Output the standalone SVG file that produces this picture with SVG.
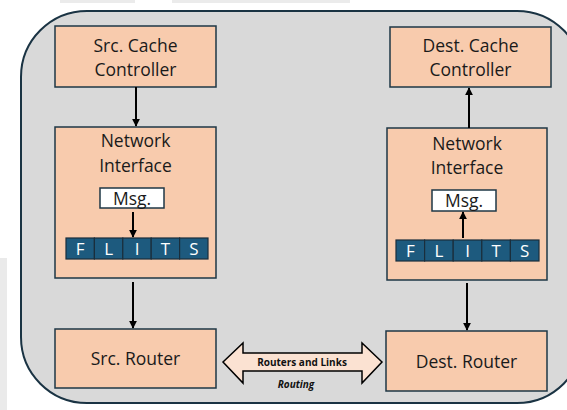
<svg xmlns="http://www.w3.org/2000/svg" width="567" height="410" viewBox="0 0 567 410">
  <style>
    .box { fill: #F8CBAD; stroke: #1E3746; stroke-width: 1.5; }
    .msg { fill: #FFFFFF; stroke: #1E3746; stroke-width: 1.5; }
    .flit { fill: #1D5A7E; stroke: #1A2E3C; stroke-width: 1.2; }
    .lbl { font-family: "Open Sans", "Liberation Sans", sans-serif; font-size: 17.5px; fill: #1A1A1A; text-anchor: middle; }
    .flt { font-family: "Open Sans", "Liberation Sans", sans-serif; font-size: 17px; fill: #FFFFFF; text-anchor: middle; }
    .link { stroke: #000000; stroke-width: 2; fill: none; marker-end: url(#head); }
    .small { font-family: "Open Sans", "Liberation Sans", sans-serif; font-size: 10px; font-weight: bold; fill: #111111; text-anchor: middle; }
  </style>
  <defs>
    <marker id="head" viewBox="0 0 10 10" refX="9" refY="5" markerWidth="4" markerHeight="4" orient="auto" markerUnits="strokeWidth">
      <path d="M0,0 L10,5 L0,10 z" fill="#000000"/>
    </marker>
  </defs>

  <!-- faint backdrop strips -->
  <rect x="60" y="0" width="75" height="3" fill="#EBEBEB"/>
  <rect x="172" y="0" width="178" height="3" fill="#EBEBEB"/>
  <rect x="0" y="258" width="7" height="152" fill="#EAEAEA"/>

  <!-- outer system panel -->
  <rect id="panel" x="21" y="11" width="562" height="392" rx="66" ry="66" fill="#D9D9D9" stroke="#1A3343" stroke-width="2"/>

  <!-- source side -->
  <g id="src-cache">
    <rect class="box" x="55" y="26" width="161" height="61"/>
    <text class="lbl" x="135.5" y="52">Src. Cache</text>
    <text class="lbl" x="135.5" y="76">Controller</text>
  </g>
  <g id="src-ni">
    <rect class="box" x="55" y="127" width="161" height="151"/>
    <text class="lbl" x="135.5" y="147">Network</text>
    <text class="lbl" x="135.5" y="172">Interface</text>
    <rect class="msg" x="100" y="188" width="64" height="20"/>
    <text class="lbl" x="132" y="205">Msg.</text>
    <g>
      <rect class="flit" x="66" y="238" width="28.4" height="21"/>
      <rect class="flit" x="94.4" y="238" width="28.4" height="21"/>
      <rect class="flit" x="122.8" y="238" width="28.4" height="21"/>
      <rect class="flit" x="151.2" y="238" width="28.4" height="21"/>
      <rect class="flit" x="179.6" y="238" width="28.4" height="21"/>
      <text class="flt" x="80.2" y="255">F</text>
      <text class="flt" x="108.6" y="255">L</text>
      <text class="flt" x="137" y="255">I</text>
      <text class="flt" x="165.4" y="255">T</text>
      <text class="flt" x="193.8" y="255">S</text>
    </g>
  </g>
  <g id="src-router">
    <rect class="box" x="55" y="329" width="161" height="59"/>
    <text class="lbl" x="135.5" y="365">Src. Router</text>
  </g>

  <!-- destination side -->
  <g id="dest-cache">
    <rect class="box" x="390" y="27" width="161" height="60"/>
    <text class="lbl" x="470.5" y="52">Dest. Cache</text>
    <text class="lbl" x="470.5" y="76">Controller</text>
  </g>
  <g id="dest-ni">
    <rect class="box" x="387" y="128" width="160" height="152"/>
    <text class="lbl" x="467" y="150">Network</text>
    <text class="lbl" x="467" y="174">Interface</text>
    <rect class="msg" x="432" y="190" width="64" height="21"/>
    <text class="lbl" x="464" y="207">Msg.</text>
    <g>
      <rect class="flit" x="396" y="240" width="28.6" height="21"/>
      <rect class="flit" x="424.6" y="240" width="28.6" height="21"/>
      <rect class="flit" x="453.2" y="240" width="28.6" height="21"/>
      <rect class="flit" x="481.8" y="240" width="28.6" height="21"/>
      <rect class="flit" x="510.4" y="240" width="28.6" height="21"/>
      <text class="flt" x="410.3" y="257">F</text>
      <text class="flt" x="438.9" y="257">L</text>
      <text class="flt" x="467.5" y="257">I</text>
      <text class="flt" x="496.1" y="257">T</text>
      <text class="flt" x="524.7" y="257">S</text>
    </g>
  </g>
  <g id="dest-router">
    <rect class="box" x="386" y="331" width="161" height="60"/>
    <text class="lbl" x="466.5" y="368">Dest. Router</text>
  </g>

  <!-- network between routers -->
  <g id="network-link">
    <path d="M223,362 L243,343 L243,353 L362,353 L362,343 L382,362 L362,383 L362,371 L243,371 L243,383 Z" fill="#FBE2D2" stroke="#000000" stroke-width="1.5" stroke-linejoin="miter"/>
    <text class="small" x="302" y="366">Routers and Links</text>
    <text class="small" x="296" y="388" font-size="11px" font-style="italic">Routing</text>
  </g>

  <!-- connectors -->
  <g id="connectors">
    <line class="link" x1="136" y1="87" x2="136" y2="126"/>
    <line class="link" x1="133" y1="212" x2="133" y2="237"/>
    <line class="link" x1="133" y1="282" x2="133" y2="328"/>
    <line class="link" x1="469" y1="128" x2="469" y2="88"/>
    <line class="link" x1="463" y1="238" x2="463" y2="212"/>
    <line class="link" x1="467" y1="283" x2="467" y2="330"/>
  </g>
</svg>
